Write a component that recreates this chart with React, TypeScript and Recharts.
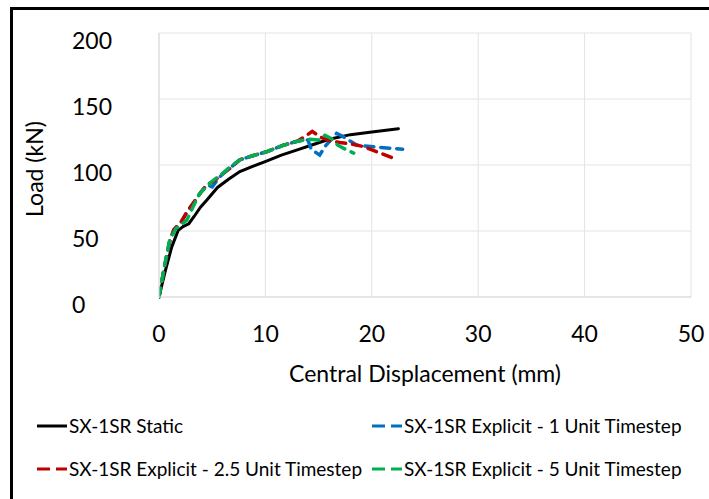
import React from "react";
import { LineChart, Line, XAxis, YAxis, CartesianGrid } from "recharts";

const staticX = [0, 0.6, 1.2, 1.8, 2.3, 2.8, 3.3, 3.9, 4.5, 5.5, 6.5, 7.6, 8.8, 10.1, 11.5, 13.0, 14.5, 16.0, 18.0, 20.0, 22.5];
const staticY = [0, 20, 38, 50.5, 53.5, 55.5, 61, 68, 73.5, 83, 89, 95, 99, 103, 107.5, 111.5, 115.5, 119.5, 123, 125, 127.5];

const exp1X = [0, 0.5, 1.0, 1.4, 2.1, 2.6, 3.3, 3.9, 4.5, 5.0, 5.7, 6.4, 7.6, 8.8, 10.1, 11.7, 13.0, 14.0, 14.3, 15.1, 15.6, 16.7, 17.2, 18.6, 20.5, 22.9];
const exp1Y = [0, 22, 42, 51, 57, 64, 72, 79, 85, 83.5, 91, 96, 104, 107, 110, 115, 118, 119, 112, 107.5, 114, 124, 122, 115, 113.5, 112];

const exp25X = [0, 0.5, 1.0, 1.4, 2.1, 2.6, 3.3, 3.9, 4.5, 5.2, 5.9, 6.6, 7.6, 8.8, 10.1, 11.7, 13.0, 13.8, 14.4, 15.2, 16.2, 17.0, 18.0, 19.2, 20.8, 22.4];
const exp25Y = [0, 22, 42, 51, 57, 64, 72, 79, 85, 88, 93, 97, 104, 107, 110, 115, 118, 122, 125.5, 121, 118, 117, 116, 114, 109, 104];

const exp5X = [0, 0.5, 1.0, 1.6, 2.1, 2.6, 3.3, 3.8, 4.5, 5.2, 5.9, 6.6, 7.6, 8.8, 10.1, 11.7, 13.0, 14.0, 15.0, 15.6, 16.2, 16.8, 17.5, 18.3];
const exp5Y = [0, 23, 43, 52, 55, 58, 70, 78, 84, 89, 93, 98, 104, 107, 110, 115, 118, 119.5, 119, 122.5, 120, 115, 112, 109];

const xTicks = [0, 10, 20, 30, 40, 50];
const yTicks = [0, 50, 100, 150, 200];

const seriesNames = [
  "SX-1SR Static",
  "SX-1SR Explicit - 1 Unit Timestep",
  "SX-1SR Explicit - 2.5 Unit Timestep",
  "SX-1SR Explicit - 5 Unit Timestep",
];
const seriesColors = ["#000000", "#0070C0", "#C00000", "#00B050"];

const zip = (xs: number[], ys: number[]) => xs.map((x, i) => ({ x, y: ys[i] }));

const series = [
  { name: seriesNames[0], color: seriesColors[0], data: zip(staticX, staticY), dashed: false },
  { name: seriesNames[1], color: seriesColors[1], data: zip(exp1X, exp1Y), dashed: true },
  { name: seriesNames[2], color: seriesColors[2], data: zip(exp25X, exp25Y), dashed: true },
  { name: seriesNames[3], color: seriesColors[3], data: zip(exp5X, exp5Y), dashed: true },
];

const FONT = "Lato, 'Open Sans', sans-serif";

const YTick = (props: any) => {
  const { x, y, payload } = props;
  return (
    <text x={x - 87} y={y + 16} textAnchor="start" fontFamily={FONT} fontSize={23} fill="#000">
      {payload.value}
    </text>
  );
};

const XTick = (props: any) => {
  const { x, y, payload } = props;
  return (
    <text x={x} y={y + 45} textAnchor="middle" fontFamily={FONT} fontSize={23} fill="#000">
      {payload.value}
    </text>
  );
};

const LegendBlock = () => {
  const item = (s: typeof series[number]) => (
    <div key={s.name} style={{ display: "flex", alignItems: "center", height: 43 }}>
      <svg width={32} height={10} style={{ marginRight: 1 }}>
        <line
          x1={1}
          y1={5}
          x2={31}
          y2={5}
          stroke={s.color}
          strokeWidth={3}
          strokeDasharray={s.dashed ? "13 6" : undefined}
        />
      </svg>
      <span style={{ fontFamily: FONT, fontSize: 19, color: "#000", whiteSpace: "nowrap" }}>{s.name}</span>
    </div>
  );
  return (
    <div style={{ display: "grid", gridTemplateColumns: "335px 340px" }}>
      {series.map(item)}
    </div>
  );
};

export default function App() {
  return (
    <div style={{ position: "absolute", left: 0, top: 0, width: 709, height: 499, background: "#fff", overflow: "hidden" }}>
      <div
        style={{
          position: "absolute",
          left: 10,
          top: 7,
          width: 720,
          height: 520,
          borderTop: "3px solid #000",
          borderLeft: "3px solid #000",
        }}
      />
      <div style={{ position: "absolute", left: 0, top: 0 }}>
        <LineChart width={709} height={400} margin={{ top: 33, right: 18, bottom: 43, left: 99 }} style={{ overflow: "visible" }}>
          <CartesianGrid stroke="#e3e3e3" strokeWidth={1} vertical={true} horizontal={true} />
          <XAxis
            type="number"
            dataKey="x"
            domain={[0, 50]}
            ticks={xTicks}
            allowDataOverflow
            tickLine={false}
            tickSize={0}
            tickMargin={0}
            axisLine={{ stroke: "#d9d9d9" }}
            height={60}
            tick={<XTick />}
            label={{
              value: "Central Displacement (mm)",
              position: "insideBottom",
              offset: 0,
              dy: 25,
              style: { fontFamily: FONT, fontSize: 23, fill: "#000" },
            }}
          />
          <YAxis
            type="number"
            dataKey="y"
            domain={[0, 200]}
            ticks={yTicks}
            tickLine={false}
            tickSize={0}
            tickMargin={0}
            axisLine={{ stroke: "#d9d9d9" }}
            width={60}
            tick={<YTick />}
            label={{
              value: "Load (kN)",
              angle: -90,
              position: "insideLeft",
              offset: 0,
              dx: -64,
              dy: 4,
              style: { textAnchor: "middle", fontFamily: FONT, fontSize: 23, fill: "#000" },
            }}
          />
          {series.map((s) => (
            <Line
              key={s.name}
              name={s.name}
              data={s.data}
              dataKey="y"
              type="linear"
              stroke={s.color}
              strokeWidth={s.dashed ? 3.5 : 3}
              strokeDasharray={s.dashed ? "9 7" : undefined}
              strokeLinecap="round"
              dot={false}
              activeDot={false}
              isAnimationActive={false}
            />
          ))}
        </LineChart>
      </div>
      <div style={{ position: "absolute", left: 36, top: 404, width: 680 }}>
        <LegendBlock />
      </div>
    </div>
  );
}
